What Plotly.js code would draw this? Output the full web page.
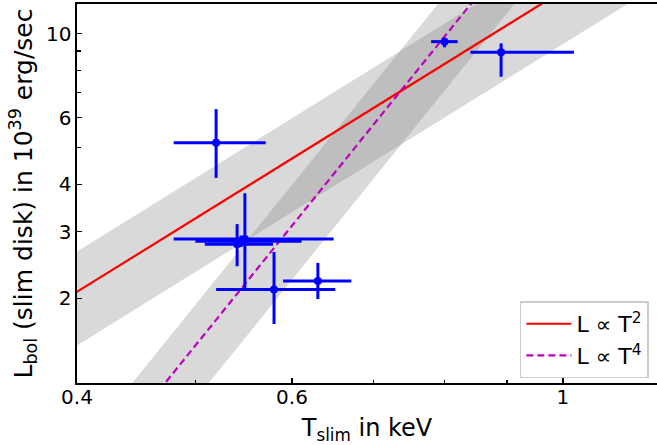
<!DOCTYPE html>
<html>
<head>
<meta charset="utf-8">
<script src="https://cdn.plot.ly/plotly-3.0.1.min.js"></script>
<style>html,body{margin:0;padding:0;background:#fff;}#chart{width:657px;height:445px;}</style>
</head>
<body>
<div id="chart"></div>
<script>
// Measured data (T_slim in keV, L_bol in 1e39 erg/s)
const tSlim      = [0.520, 0.549, 0.545, 0.541, 0.580, 0.630, 0.800, 0.890];
const tErrPlus   = [0.051, 0.100, 0.066, 0.038, 0.071, 0.041, 0.020, 0.131];
const tErrMinus  = [0.040, 0.069, 0.045, 0.032, 0.060, 0.040, 0.020, 0.050];
const lBol       = [5.15, 2.87, 2.83, 2.78, 2.11, 2.22, 9.53, 8.93];
const lErrPlus   = [1.17, 0.92, 0.10, 0.36, 0.54, 0.26, 0.23, 0.50];
const lErrMinus  = [0.99, 0.75, 0.10, 0.35, 0.40, 0.23, 0.32, 1.23];

// Power-law models L = A * T^n with 1-sigma ranges on A
const fit2Norm = 13.0, fit2Err = 3.6;   // L ∝ T^2
const fit4Norm = 24.0, fit4Err = 6.7;   // L ∝ T^4
const modelT = [0.3, 1.4];              // extent of model lines (clipped by axes)

const xTickVals = [0.4, 0.6, 1];
const xTickText = ['0.4', '0.6', '1'];
const xMinorVals = [0.5, 0.7, 0.8, 0.9];
const yTickVals = [2, 3, 4, 6, 10];
const yTickText = ['2', '3', '4', '6', '10'];
const yMinorVals = [5, 7, 8, 9];

function pl(a, n) { return modelT.map(t => a * Math.pow(t, n)); }
function band(a, e, n) {
  const lo = pl(a - e, n), hi = pl(a + e, n);
  return { x: modelT.concat(modelT.slice().reverse()), y: hi.concat(lo.slice().reverse()) };
}
const b2 = band(fit2Norm, fit2Err, 2);
const b4 = band(fit4Norm, fit4Err, 4);
const bandFill = 'rgba(128,128,128,0.3)';

const traces = [
  { x: b2.x, y: b2.y, mode: 'lines', fill: 'toself', fillcolor: bandFill,
    line: { width: 0.5, color: 'rgba(128,128,128,0.15)' }, showlegend: false, hoverinfo: 'skip' },
  { x: b4.x, y: b4.y, mode: 'lines', fill: 'toself', fillcolor: bandFill,
    line: { width: 0.5, color: 'rgba(128,128,128,0.15)' }, showlegend: false, hoverinfo: 'skip' },
  { x: modelT, y: pl(fit2Norm, 2), mode: 'lines', name: 'L ∝ T<sup>2</sup>',
    line: { color: '#ff0000', width: 2.2 } },
  { x: modelT, y: pl(fit4Norm, 4), mode: 'lines', name: 'L ∝ T<sup>4</sup>',
    line: { color: '#bf00bf', width: 2.2, dash: '7px,4px' } },
  { x: tSlim, y: lBol, mode: 'markers', showlegend: false,
    marker: { color: '#0000ff', size: 8 },
    error_x: { type: 'data', symmetric: false, array: tErrPlus, arrayminus: tErrMinus,
               color: '#0000ff', thickness: 3, width: 0 },
    error_y: { type: 'data', symmetric: false, array: lErrPlus, arrayminus: lErrMinus,
               color: '#0000ff', thickness: 3, width: 0 } }
];

const font = 'DejaVu Sans, sans-serif';
const layout = {
  width: 657, height: 445,
  margin: { l: 77, r: 0, t: 4, b: 62 },
  paper_bgcolor: '#ffffff', plot_bgcolor: '#ffffff',
  font: { family: font, color: '#000000', size: 20 },
  showlegend: true,
  legend: { x: 0.986, xanchor: 'right', y: 0.012, yanchor: 'bottom',
            bgcolor: '#ffffff', bordercolor: '#cccccc', borderwidth: 1.5,
            itemwidth: 45, tracegroupgap: 0,
            font: { family: font, size: 22, color: '#000' } },
  xaxis: {
    type: 'log', range: [Math.log10(0.4), Math.log10(0.4) + 580 / 1221],
    showgrid: false, zeroline: false,
    showline: true, linecolor: '#000', linewidth: 1.6, mirror: true,
    ticks: 'inside', ticklen: 5, tickwidth: 1.3, tickcolor: '#000',
    tickmode: 'array', tickvals: xTickVals, ticktext: xTickText,
    tickfont: { family: font, size: 20, color: '#000' },
    ticklabelstandoff: -5,
    minor: { tickmode: 'array', tickvals: xMinorVals, ticks: 'inside', ticklen: 3.5, tickwidth: 1.1, tickcolor: '#000', showgrid: false },
    title: { text: 'T<sub>slim</sub> in keV', font: { family: font, size: 24, color: '#000' }, standoff: 12 },
    automargin: false
  },
  yaxis: {
    type: 'log', range: [0.0772, 1.0785],
    showgrid: false, zeroline: false,
    showline: true, linecolor: '#000', linewidth: 1.6, mirror: false,
    ticks: 'inside', ticklen: 5, tickwidth: 1.3, tickcolor: '#000',
    tickmode: 'array', tickvals: yTickVals, ticktext: yTickText,
    tickfont: { family: font, size: 20, color: '#000' },
    minor: { tickmode: 'array', tickvals: yMinorVals, ticks: 'inside', ticklen: 3.5, tickwidth: 1.1, tickcolor: '#000', showgrid: false },
    title: { text: 'L<sub>bol</sub> (slim disk) in 10<sup>39</sup> erg/sec', font: { family: font, size: 25, color: '#000' }, standoff: 6 },
    automargin: false
  }
};

Plotly.newPlot('chart', traces, layout, { displayModeBar: false, staticPlot: true });
</script>
</body>
</html>
